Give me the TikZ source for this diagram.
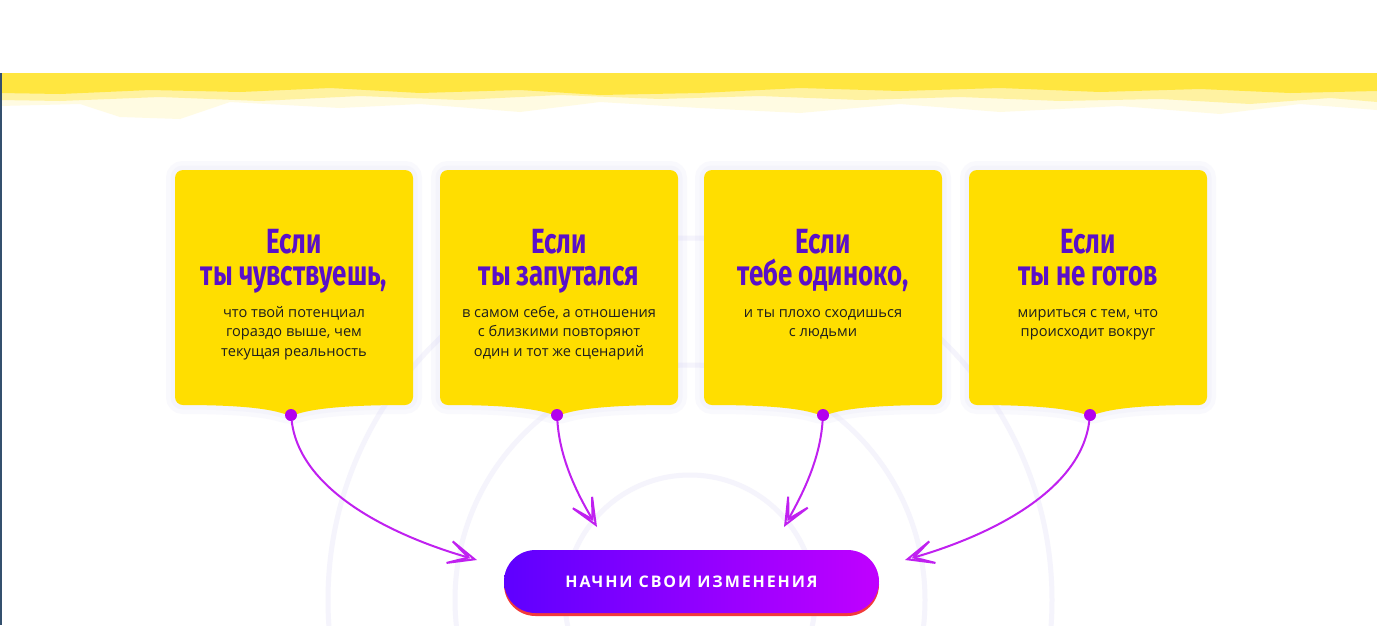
\documentclass[tikz,border=0pt]{standalone}
\usepackage{fontspec}
\setmainfont{Open Sans}
\newfontfamily\handfont[FakeStretch=0.74]{Fira Sans}
\newfontfamily\btnfont[LetterSpace=12]{Open Sans}
\usetikzlibrary{arrows.meta}
\usepackage{xcolor}

\definecolor{bandyellow}{HTML}{FFE640}
\definecolor{cardyellow}{HTML}{FFDE00}
\definecolor{headviolet}{HTML}{5A10C8}
\definecolor{arrowviolet}{HTML}{C020F0}
\definecolor{dotviolet}{HTML}{B400EE}
\definecolor{btnleft}{HTML}{5E00FF}
\definecolor{btnright}{HTML}{C000FF}
\definecolor{btnred}{HTML}{F23A3A}
\definecolor{ringcol}{HTML}{F5F4FC}
\definecolor{glowcol}{HTML}{D8D6F4}
\definecolor{edgecol}{HTML}{34506E}
\definecolor{bodyblack}{HTML}{1E1E1E}

\tikzset{
  card/.style={fill=cardyellow, rounded corners=8pt},
  cardglow/.style={draw=glowcol, rounded corners=8pt, line width=#1, opacity=0.14},
  ring/.style={draw=ringcol, line width=5pt},
  headtxt/.style={text=headviolet, font=\handfont\bfseries\fontsize{35}{31}\selectfont, inner sep=0pt, text height=23pt, text depth=6pt, anchor=base},
  bodytxt/.style={text=bodyblack, font=\fontsize{14.6}{19.5}\selectfont, align=center, inner sep=0pt, anchor=north},
  dot/.style={circle, fill=dotviolet, minimum size=12pt, inner sep=0pt},
  pointer/.style={draw=arrowviolet, line width=2pt, -{Stealth[open, length=44pt, width=38pt, inset=33pt]}},
  button/.style={rounded corners=31.5pt, minimum width=375pt, minimum height=63pt, inner sep=0pt, text=white, font=\btnfont\bfseries\fontsize{16}{16}\selectfont}
}

\begin{document}
\begin{tikzpicture}[x=1pt,y=1pt,yscale=-1,xscale=1]
\useasboundingbox (0,0) rectangle (1377,625);
\fill[white] (0,0) rectangle (1377,625);

%Shape: Background rings
\draw[ring] (690,600) circle (125);
\draw[ring] (690,600) circle (235);
\draw[ring] (690,600) circle (362);

%Shape: Top band, pale trail
\fill[bandyellow, opacity=0.15] (0,73) -- (1377,73) -- (1377,110) -- (1300,104) -- (1220,114) -- (1120,106) -- (1000,112) -- (900,104) -- (800,113) -- (700,108) -- (600,102) -- (520,112) -- (420,104) -- (340,108) -- (230,102) -- (180,119) -- (120,117) -- (80,104) -- (0,106) -- cycle;
%Shape: Top band, middle layer
\fill[bandyellow, opacity=0.4] (0,73) -- (1377,73) -- (1377,102) -- (1330,98) -- (1250,104) -- (1160,99) -- (1060,101) -- (960,97) -- (860,100) -- (760,96) -- (660,99) -- (560,95) -- (460,100) -- (360,96) -- (260,101) -- (160,97) -- (60,101) -- (0,100) -- cycle;
%Shape: Top band, solid
\fill[bandyellow] (0,73) -- (1377,73) -- (1377,91) -- (1290,93) -- (1200,89) -- (1100,92) -- (1000,88) -- (900,91) -- (800,88) -- (700,93) -- (600,95) -- (520,90) -- (420,93) -- (330,88) -- (240,92) -- (150,90) -- (60,94) -- (0,93) -- cycle;

%Straight Lines: left edge
\fill[edgecol] (0,73) rectangle (2,625);

%Shape: Card 1
\draw[cardglow=18pt] (175,170) -- (413,170) -- (413,405) .. controls (353,405) and (316,408) .. (291,416) .. controls (266,408) and (235,405) .. (175,405) -- cycle;
\draw[cardglow=9pt] (175,170) -- (413,170) -- (413,405) .. controls (353,405) and (316,408) .. (291,416) .. controls (266,408) and (235,405) .. (175,405) -- cycle;
\fill[card] (175,170) -- (413,170) -- (413,405) .. controls (353,405) and (316,408) .. (291,416) .. controls (266,408) and (235,405) .. (175,405) -- cycle;
%Shape: Card 2
\draw[cardglow=18pt] (440,170) -- (678,170) -- (678,405) .. controls (618,405) and (582,408) .. (557,416) .. controls (532,408) and (500,405) .. (440,405) -- cycle;
\draw[cardglow=9pt] (440,170) -- (678,170) -- (678,405) .. controls (618,405) and (582,408) .. (557,416) .. controls (532,408) and (500,405) .. (440,405) -- cycle;
\fill[card] (440,170) -- (678,170) -- (678,405) .. controls (618,405) and (582,408) .. (557,416) .. controls (532,408) and (500,405) .. (440,405) -- cycle;
%Shape: Card 3
\draw[cardglow=18pt] (704,170) -- (942,170) -- (942,405) .. controls (882,405) and (848,408) .. (823,416) .. controls (798,408) and (764,405) .. (704,405) -- cycle;
\draw[cardglow=9pt] (704,170) -- (942,170) -- (942,405) .. controls (882,405) and (848,408) .. (823,416) .. controls (798,408) and (764,405) .. (704,405) -- cycle;
\fill[card] (704,170) -- (942,170) -- (942,405) .. controls (882,405) and (848,408) .. (823,416) .. controls (798,408) and (764,405) .. (704,405) -- cycle;
%Shape: Card 4
\draw[cardglow=18pt] (969,170) -- (1207,170) -- (1207,405) .. controls (1147,405) and (1115,408) .. (1090,416) .. controls (1065,408) and (1029,405) .. (969,405) -- cycle;
\draw[cardglow=9pt] (969,170) -- (1207,170) -- (1207,405) .. controls (1147,405) and (1115,408) .. (1090,416) .. controls (1065,408) and (1029,405) .. (969,405) -- cycle;
\fill[card] (969,170) -- (1207,170) -- (1207,405) .. controls (1147,405) and (1115,408) .. (1090,416) .. controls (1065,408) and (1029,405) .. (969,405) -- cycle;

% Text Node
\node[headtxt] (iffeel) at (294,253) {Если};
\node[headtxt] (headfeel) at (294,285) {ты чувствуешь,};
\node[bodytxt] (textfeel) at (294,306) {что твой потенциал\\гораздо выше, чем\\текущая реальность};
% Text Node
\node[headtxt] (iflost) at (559,253) {Если};
\node[headtxt] (headlost) at (559,285) {ты запутался};
\node[bodytxt] (textlost) at (559,306) {в самом себе, а отношения\\с близкими повторяют\\один и тот же сценарий};
% Text Node
\node[headtxt] (iflone) at (823,253) {Если};
\node[headtxt] (headlone) at (823,285) {тебе одиноко,};
\node[bodytxt] (textlone) at (823,309) {и ты плохо сходишься\\с людьми};
% Text Node
\node[headtxt] (ifready) at (1088,253) {Если};
\node[headtxt] (headready) at (1088,285) {ты не готов};
\node[bodytxt] (textready) at (1088,309) {мириться с тем, что\\происходит вокруг};

%Shape: Button
\fill[btnred, rounded corners=31.5pt] (504,553) rectangle (879,616);
\node[button, left color=btnleft, right color=btnright] (start) at (691.5,581.5) {НАЧНИ СВОИ ИЗМЕНЕНИЯ};

%Shape: Dots
\node[dot] (dotfeel) at (291,415) {};
\node[dot] (dotlost) at (557,415) {};
\node[dot] (dotlone) at (823,415) {};
\node[dot] (dotready) at (1090,415) {};
\coordinate (tipfeel) at (477,560);
\coordinate (tiplost) at (597,527);
\coordinate (tiplone) at (784,527);
\coordinate (tipready) at (905,560);

%Curve Lines
\draw[pointer] (dotfeel) .. controls (300,490) and (390,535) .. (tipfeel);
\draw[pointer] (dotlost) .. controls (560,460) and (578,495) .. (tiplost);
\draw[pointer] (dotlone) .. controls (820,460) and (802,495) .. (tiplone);
\draw[pointer] (dotready) .. controls (1081,490) and (992,535) .. (tipready);
\end{tikzpicture}
\end{document}
